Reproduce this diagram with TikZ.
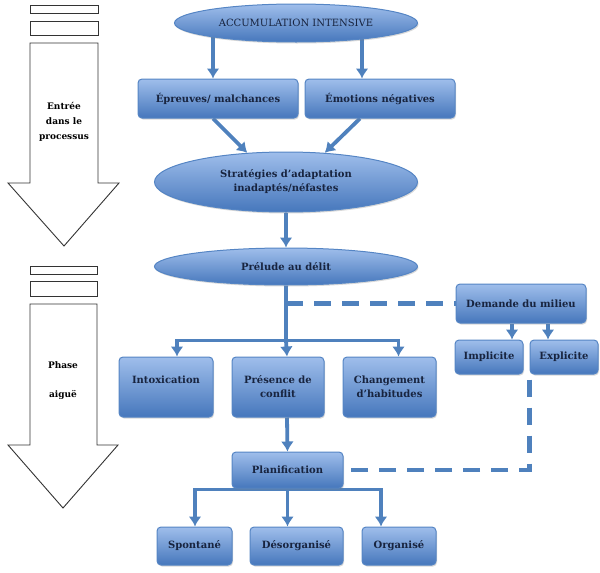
\documentclass[tikz,border=0pt]{standalone}
\usepackage{fontspec}
\setmainfont{DejaVu Serif}
\usepackage{xcolor}
\usepackage{tikz}
\usetikzlibrary{calc, shapes.geometric, positioning, backgrounds, shadows, arrows.meta}

\definecolor{bleuTrait}{HTML}{4F81BD}
\definecolor{bleuHaut}{HTML}{9FBEEB}
\definecolor{bleuBas}{HTML}{4677BC}
\definecolor{bleuBord}{HTML}{5585C4}
\definecolor{texteBleu}{HTML}{18243F}

\tikzset{
  boite/.style={draw=bleuBord, line width=1pt, rounded corners=4pt,
    top color=bleuHaut, bottom color=bleuBas, text=texteBleu,
    font=\bfseries\fontsize{10}{14}\selectfont, align=center, inner sep=0pt,
    drop shadow={opacity=0.3, shadow xshift=1pt, shadow yshift=-1.5pt}},
  bulle/.style={boite, ellipse, sharp corners},
  lien/.style={bleuTrait, line width=3.8pt},
  pointille/.style={bleuTrait, line width=4.5pt, dash pattern=on 17pt off 11pt},
  fleche/.style={draw=black!80, line width=0.9pt, fill=white},
}

\begin{document}
\begin{tikzpicture}[>={Latex[length=10pt,width=13pt]}, x=1pt, y=-1pt]
    \useasboundingbox (0,0) rectangle (600,573);

    % Flèches de gauche
    \draw[fleche] (30,5) rectangle (98,13);
    \draw[fleche] (30,21) rectangle (98,35);
    \draw[fleche] (30,43) -- (98,43) -- (98,183) -- (119,183) -- (64,246)
        -- (8,183) -- (30,183) -- cycle;
    \node[font=\bfseries\fontsize{9}{15}\selectfont, align=center] (entree) at (64,122)
        {Entrée\\dans le\\processus};

    \draw[fleche] (30,266) rectangle (97,274);
    \draw[fleche] (30,281) rectangle (97,296);
    \draw[fleche] (30,304) -- (97,304) -- (97,445) -- (118,445) -- (63,508)
        -- (8,445) -- (30,445) -- cycle;
    \node[font=\bfseries\fontsize{9}{29}\selectfont, align=center] (phase) at (63,381)
        {Phase\\aiguë};

    % Noeuds du processus
    \node[bulle, minimum width=243pt, minimum height=38pt,
        font=\fontsize{10}{12}\selectfont] (accum) at (296,23) {ACCUMULATION INTENSIVE};
    \node[boite, minimum width=160pt, minimum height=39pt] (epreuves) at (218,98.5)
        {Épreuves/ malchances};
    \node[boite, minimum width=150pt, minimum height=39pt] (emotions) at (380,98.5)
        {Émotions négatives};
    \node[bulle, minimum width=263pt, minimum height=60pt] (strategies) at (286,182)
        {Stratégies d’adaptation\\inadaptés/néfastes};
    \node[bulle, minimum width=263pt, minimum height=37pt] (prelude) at (286,266.5)
        {Prélude au délit};

    \node[boite, minimum width=130pt, minimum height=39pt] (demande) at (521,303.5)
        {Demande du milieu};
    \node[boite, minimum width=68pt, minimum height=34pt] (implicite) at (489,357)
        {Implicite};
    \node[boite, minimum width=68pt, minimum height=34pt] (explicite) at (564,357)
        {Explicite};

    \node[boite, minimum width=94pt, minimum height=60pt] (intox) at (166,387)
        {Intoxication\\~};
    \node[boite, minimum width=92pt, minimum height=60pt] (presence) at (278,387)
        {Présence de\\conflit};
    \node[boite, minimum width=93pt, minimum height=60pt] (changement) at (389.5,387)
        {Changement\\d’habitudes};

    \node[boite, minimum width=111pt, minimum height=36pt] (planif) at (287.5,470)
        {Planification};
    \node[boite, minimum width=75pt, minimum height=38pt] (spontane) at (194.5,546)
        {Spontané};
    \node[boite, minimum width=93pt, minimum height=38pt] (desorg) at (296.5,546)
        {Désorganisé};
    \node[boite, minimum width=74pt, minimum height=38pt] (organise) at (399,546)
        {Organisé};

    % Liaisons
    \begin{scope}[on background layer]
        \draw[lien, ->] ([xshift=-5pt]epreuves.north |- accum.center) -- ([xshift=-5pt]epreuves.north);
        \draw[lien, ->] ([xshift=-18pt]emotions.north |- accum.center) -- ([xshift=-18pt]emotions.north);
        \draw[lien, ->] ([xshift=-5pt]epreuves.south) -- (strategies.143);
        \draw[lien, ->] ([xshift=-20pt]emotions.south) -- (strategies.37);
        \draw[lien, ->] (strategies.south) -- (prelude.north);

        \coordinate (fourche1) at ($(prelude.south)+(0,55)$);
        \draw[lien] (prelude.south) -- (fourche1);
        \draw[lien, ->] (fourche1) -| ([xshift=11pt]intox.north);
        \draw[lien, ->] (fourche1) -- ([xshift=9pt]presence.north);
        \draw[lien, ->] (fourche1) -| ([xshift=9pt]changement.north);
        \draw[lien, ->] ([xshift=9pt]presence.south) -- (planif.north);

        \coordinate (fourche2) at ($(planif.south)+(0,1)$);
        \draw[lien, ->] (fourche2) -| ([xshift=0.5pt]spontane.north);
        \draw[lien, ->] (fourche2) -- ([xshift=-9pt]desorg.north);
        \draw[lien, ->] (fourche2) -| ([xshift=-18pt]organise.north);

        \draw[lien, ->] ([xshift=23pt]implicite.north |- demande.south) -- ([xshift=23pt]implicite.north);
        \draw[lien, ->] ([xshift=-16pt]explicite.north |- demande.south) -- ([xshift=-16pt]explicite.north);

        % Liens en pointillés
        \draw[pointille] (prelude.south |- demande.west) -- (demande.west);
        \draw[pointille] ([yshift=-5pt]explicite.south west) -- (explicite.south west |- planif.east)
            -- (planif.east);
    \end{scope}
\end{tikzpicture}
\end{document}
